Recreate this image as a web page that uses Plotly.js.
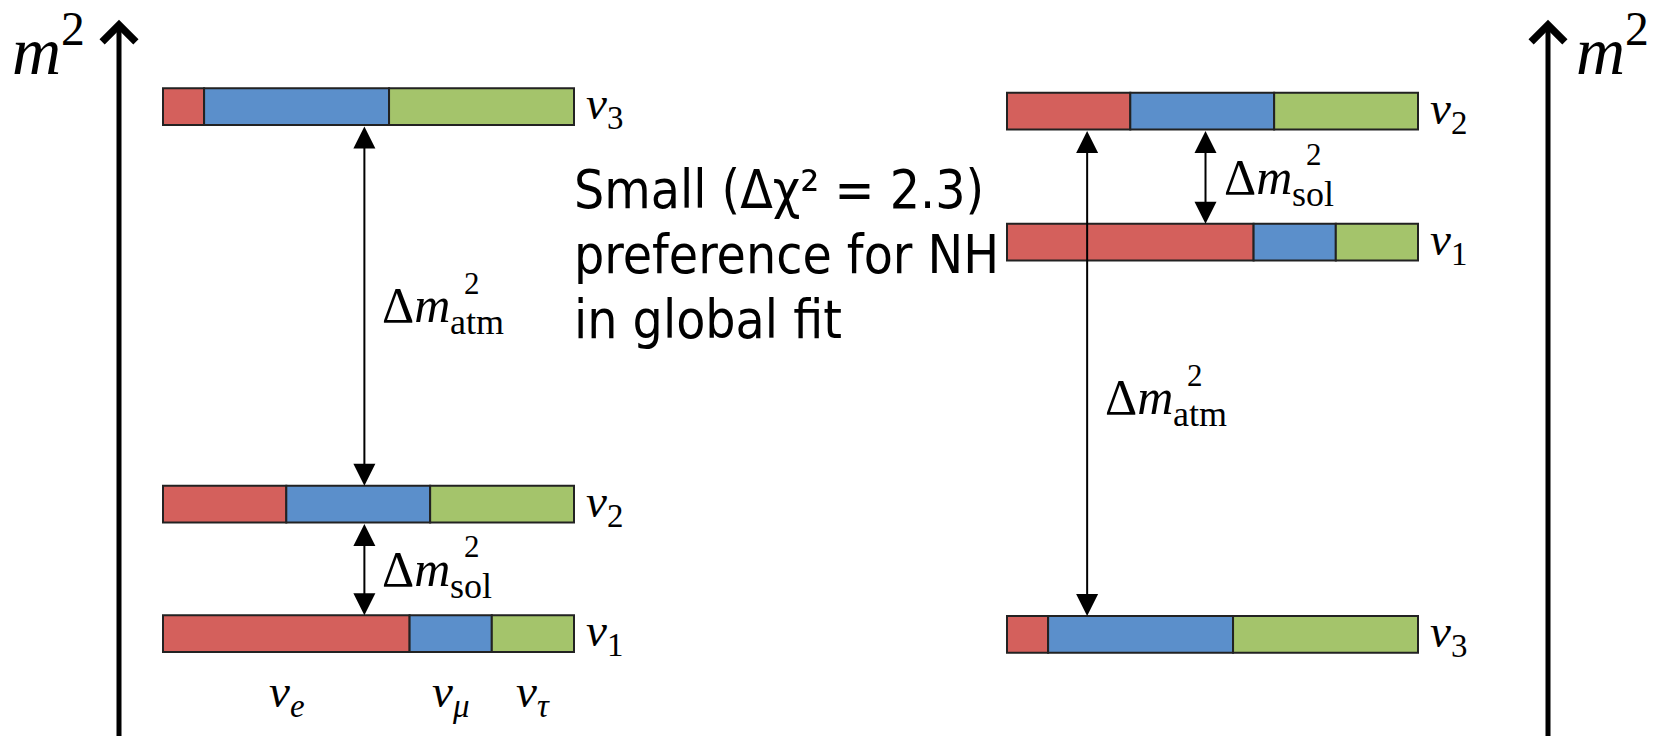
<!DOCTYPE html>
<html><head><meta charset="utf-8">
<script src="https://cdn.plot.ly/plotly-3.0.1.min.js"></script>
<style>html,body{margin:0;padding:0;background:#fff;} #chart{width:1671px;height:736px;}</style>
</head><body><div id="chart"></div>
<script>
// ---- data ----
const stateSubs = ['1', '2', '3'];                 // mass eigenstates ν1, ν2, ν3
const flavourSubs = ['e', 'μ', 'τ'];              // flavour labels ν_e, ν_μ, ν_τ
const flavourColors = ['#d4605c', '#5b8fcb', '#a4c46b'];
const fracE   = [0.60, 0.30, 0.10];                // ν_e content of ν1, ν2, ν3
const fracMu  = [0.20, 0.35, 0.45];                // ν_μ content
const fracTau = [0.20, 0.35, 0.45];                // ν_τ content
const nhLevels = [1.39, 3.15, 8.55];               // m² (arb. units), normal hierarchy
const ihLevels = [6.71, 8.49, 1.38];               // m² (arb. units), inverted hierarchy
const splitNames = ['atm', 'sol'];
const nhSplitPairs = [[2, 1], [1, 0]];             // ν3–ν2 (atm), ν2–ν1 (sol)
const ihSplitPairs = [[1, 2], [1, 0]];             // ν2–ν3 (atm), ν2–ν1 (sol)
const noteLines = ['Small (Δχ² = 2.3)', 'preference for NH', 'in global fit'];

// ---- layout geometry ----
const barLen = 4.11, barThick = 0.5;
const panels = [
  {levels: nhLevels, x0: 1.63, pairs: nhSplitPairs, arrowPos: [0.49, 0.49], labelDy: [0, 0], axisX: 1.19, m2X: 0.1},
  {levels: ihLevels, x0: 10.07, pairs: ihSplitPairs, arrowPos: [0.195, 0.483], labelDy: [-0.33, 0], axisX: 15.48, m2X: 15.74}
];
const fracs = [fracE, fracMu, fracTau];
const serif = 'Liberation Serif, DejaVu Serif, serif';

// ---- bars ----
const traces = flavourSubs.map((f, fi) => {
  const y = [], x = [], base = [];
  panels.forEach(p => {
    p.levels.forEach((lv, si) => {
      let cum = 0;
      for (let k = 0; k < fi; k++) cum += fracs[k][si];
      y.push(lv);
      x.push(fracs[fi][si] * barLen);
      base.push(p.x0 + cum * barLen);
    });
  });
  return {
    type: 'bar', orientation: 'h', y: y, x: x, base: base, width: barThick,
    marker: {color: flavourColors[fi], line: {color: '#222', width: 2}},
    hoverinfo: 'skip', showlegend: false
  };
});

// ---- annotations ----
const ann = [];
panels.forEach(p => {
  // vertical m² axis
  ann.push({x: p.axisX, y: 9.73, ax: p.axisX, ay: -0.5, xref: 'x', yref: 'y', axref: 'x', ayref: 'y',
    text: '', showarrow: true, arrowhead: 4, arrowsize: 1.3, arrowwidth: 5, arrowcolor: '#000'});
  ann.push({x: p.m2X, y: 9.38, xref: 'x', yref: 'y', xanchor: 'left', yanchor: 'middle', showarrow: false,
    text: '<i>m</i><sup>2</sup>', font: {family: serif, size: 68, color: '#000'}});
  // state labels
  p.levels.forEach((lv, si) => {
    ann.push({x: p.x0 + barLen + 0.1, y: lv, xref: 'x', yref: 'y', xanchor: 'left', yanchor: 'middle',
      showarrow: false, text: '<i>ν</i><sub>' + stateSubs[si] + '</sub>', font: {family: serif, size: 47, color: '#000'}});
  });
  // splittings
  p.pairs.forEach((pair, k) => {
    const up = p.levels[pair[0]], lo = p.levels[pair[1]];
    const ax = p.x0 + p.arrowPos[k] * barLen;
    const yTop = Math.max(up, lo) - barThick / 2, yBot = Math.min(up, lo) + barThick / 2;
    ann.push({x: ax, y: yBot, ax: ax, ay: yTop, xref: 'x', yref: 'y', axref: 'x', ayref: 'y',
      text: '', showarrow: true, arrowside: 'end+start', arrowhead: 2, startarrowhead: 2,
      arrowsize: 2.2, startarrowsize: 2.2, arrowwidth: 2, arrowcolor: '#000'});
    const ly = (yTop + yBot) / 2 + p.labelDy[k];
    const lx = ax + 0.16;
    ann.push({x: lx, y: ly, xref: 'x', yref: 'y', xanchor: 'left', yanchor: 'middle', showarrow: false,
      text: 'Δ<i>m</i>', font: {family: serif, size: 50, color: '#000'}});
    ann.push({x: lx, y: ly, xref: 'x', yref: 'y', xanchor: 'left', yanchor: 'middle', showarrow: false,
      xshift: 82, yshift: 22, text: '2', font: {family: serif, size: 31, color: '#000'}});
    ann.push({x: lx, y: ly, xref: 'x', yref: 'y', xanchor: 'left', yanchor: 'middle', showarrow: false,
      xshift: 68, yshift: -17, text: splitNames[k], font: {family: serif, size: 36, color: '#000'}});
  });
});
// flavour labels below NH ν1
{
  const p = panels[0];
  let cum = 0;
  flavourSubs.forEach((f, fi) => {
    const w = fracs[fi][0];
    ann.push({x: p.x0 + (cum + w / 2) * barLen, y: p.levels[0] - 0.82, xref: 'x', yref: 'y',
      xanchor: 'center', yanchor: 'middle', showarrow: false,
      text: '<i>ν</i><sub><i>' + f + '</i></sub>', font: {family: serif, size: 47, color: '#000'}});
    cum += w;
  });
}
// note, one annotation per line
noteLines.forEach((line, i) => {
  ann.push({x: 5.72, y: 7.42 - i * 0.883, xref: 'x', yref: 'y', xanchor: 'left', yanchor: 'middle', align: 'left',
    showarrow: false, text: line,
    font: {family: 'DejaVu Sans Condensed, DejaVu Sans, sans-serif', size: 53, color: '#000'}});
});

const layout = {
  width: 1671, height: 736, margin: {l: 0, r: 0, t: 0, b: 0},
  paper_bgcolor: '#ffffff', plot_bgcolor: '#ffffff',
  barmode: 'overlay', showlegend: false,
  xaxis: {range: [0, 16.71], visible: false, fixedrange: true},
  yaxis: {range: [0, 10], visible: false, fixedrange: true},
  annotations: ann
};
Plotly.newPlot('chart', traces, layout, {staticPlot: true, displayModeBar: false});
</script></body></html>
